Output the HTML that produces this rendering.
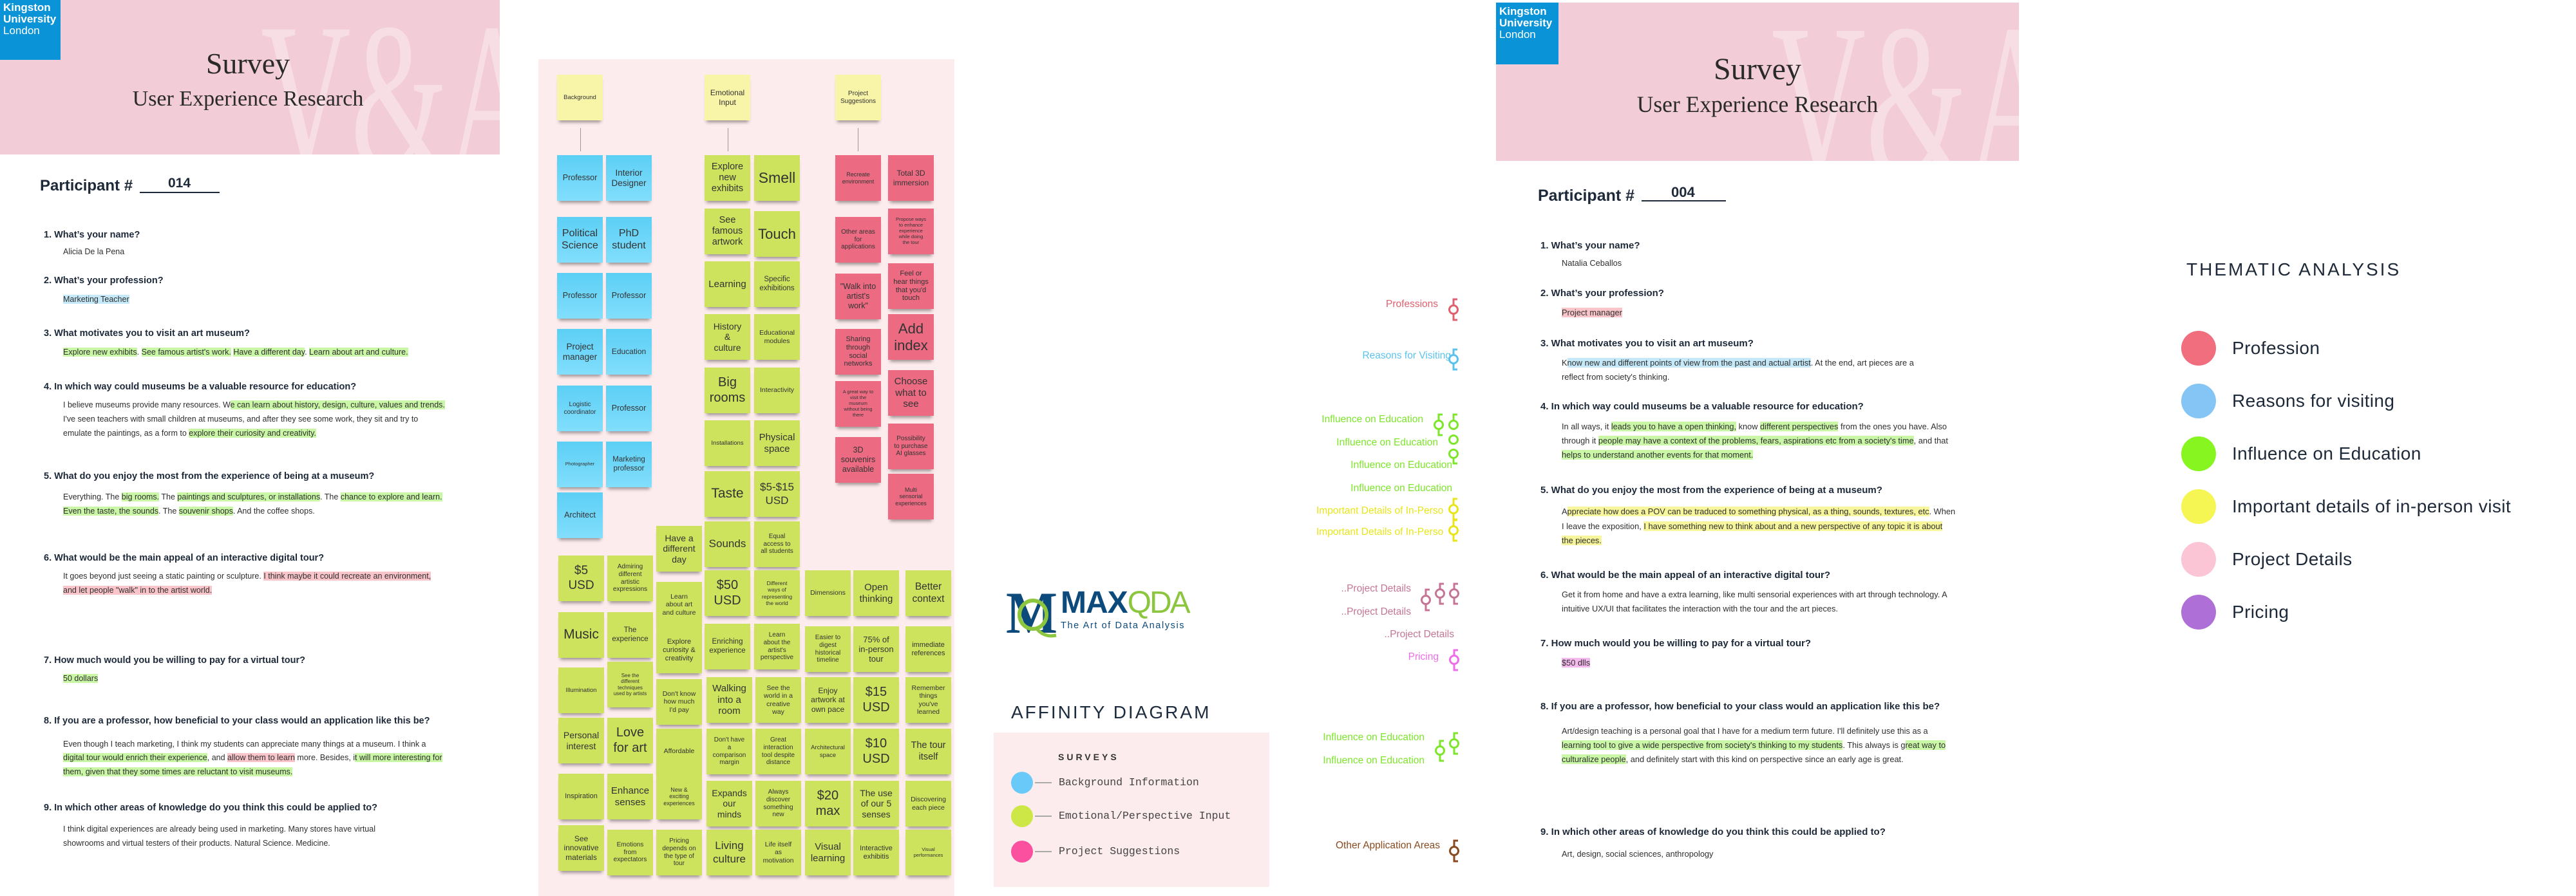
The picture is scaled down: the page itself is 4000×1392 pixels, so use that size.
<!DOCTYPE html>
<html><head><meta charset="utf-8"><style>
body{margin:0;background:#fff}
#r{position:relative;width:4000px;height:1392px;overflow:hidden;background:#fff;font-family:"Liberation Sans",Arial,sans-serif}
.a{position:absolute;white-space:nowrap}
.hdr{position:absolute;background:#f2ccd7;overflow:hidden}
.kb{position:absolute;background:#0a93d7;color:#fff;font-size:17px;line-height:18px;padding:3px 0 0 5px;box-sizing:border-box}
.kb b{font-weight:bold;display:block}
.kb span{display:block}
.ttl{position:absolute;left:0;right:0;text-align:center;font-family:"Liberation Serif",serif;color:#2a2a2a;white-space:nowrap}
.q{position:absolute;white-space:nowrap;font-weight:bold;color:#1d2939;line-height:18px}
.ans{position:absolute;white-space:nowrap;color:#2e2e2e;line-height:16px}
.L .q{font-size:14.5px}.L .ans{font-size:12.5px}
.R .q{font-size:15px}.R .ans{font-size:12.8px}
.hg{background:#c9f7a6}.hb{background:#c5e9f8}.hp{background:#f9c5ca}.hy{background:#f7f69c}.hm{background:#f6b9ee}
.s{position:absolute;width:71px;height:71px;display:flex;align-items:center;justify-content:center;text-align:center;color:#333;line-height:1.18;box-shadow:0 6px 5px -3px rgba(0,0,0,.38);box-sizing:border-box;padding:2px;white-space:nowrap}
.bl{background:linear-gradient(#5ccff5,#82defc)}
.g{background:#cde35d}
.p{background:#ec6b82}
.y{background:#f8f4a8}
.code{position:absolute;white-space:nowrap;font-size:15.5px;line-height:18px;text-align:right}
.tc{position:absolute;width:54px;height:54px;border-radius:50%;left:3387px}
.tl{position:absolute;left:3466px;font-size:28px;line-height:34px;color:#1d2939;white-space:nowrap;letter-spacing:.4px}
</style></head><body><div id="r">

<!-- ================= LEFT SURVEY ================= -->
<div class="hdr" style="left:0;top:0;width:776px;height:240px">
  <svg width="776" height="240" style="position:absolute;left:0;top:0"><text x="405" y="262" font-family="Liberation Serif, serif" font-size="330" fill="#f7dde4" textLength="430" lengthAdjust="spacingAndGlyphs">V&amp;A</text></svg>
  <div class="ttl" style="top:76px;font-size:46px;line-height:46px;left:-6px">Survey</div>
  <div class="ttl" style="top:137px;font-size:34px;line-height:34px;left:-6px">User Experience Research</div>
</div>
<div class="kb" style="left:0;top:0;width:94px;height:93px"><b>Kingston</b><b>University</b><span>London</span></div>

<div class="L">
<div class="a" style="left:62px;top:275px;font-size:24px;line-height:28px;font-weight:bold;color:#1d2939">Participant #</div>
<div class="a" style="left:261px;top:272px;font-size:21px;line-height:26px;font-weight:bold;color:#1d2939">014</div>
<div class="a" style="left:217px;top:298px;width:124px;height:2px;background:#1d2939"></div>

<div class="q" style="left:68px;top:356px">1. What’s your name?</div>
<div class="ans" style="left:98px;top:383px">Alicia De la Pena</div>
<div class="q" style="left:68px;top:427px">2. What’s your profession?</div>
<div class="ans" style="left:98px;top:457px"><span class="hb">Marketing Teacher</span></div>
<div class="q" style="left:68px;top:509px">3. What motivates you to visit an art museum?</div>
<div class="ans" style="left:98px;top:539px"><span class="hg">Explore new exhibits</span>. <span class="hg">See famous artist's work.</span> <span class="hg">Have a different day</span>. <span class="hg">Learn about art and culture.</span></div>
<div class="q" style="left:68px;top:592px">4. In which way could museums be a valuable resource for education?</div>
<div class="ans" style="left:98px;top:621px">I believe museums provide many resources. W<span class="hg">e can learn about history, design, culture, values and trends.</span></div>
<div class="ans" style="left:98px;top:643px">I've seen teachers with small children at museums, and after they see some work, they sit and try to</div>
<div class="ans" style="left:98px;top:665px">emulate the paintings, as a form to <span class="hg">explore their curiosity and creativity.</span></div>
<div class="q" style="left:68px;top:731px">5. What do you enjoy the most from the experience of being at a museum?</div>
<div class="ans" style="left:98px;top:764px">Everything. The <span class="hg">big rooms.</span> The <span class="hg">paintings and sculptures, or installations</span>. The <span class="hg">chance to explore and learn.</span></div>
<div class="ans" style="left:98px;top:786px"><span class="hg">Even the taste, the sounds</span>. The <span class="hg">souvenir shops</span>. And the coffee shops.</div>
<div class="q" style="left:68px;top:858px">6. What would be the main appeal of an interactive digital tour?</div>
<div class="ans" style="left:98px;top:887px">It goes beyond just seeing a static painting or sculpture. <span class="hp">I think maybe it could recreate an environment,</span></div>
<div class="ans" style="left:98px;top:909px"><span class="hp">and let people "walk" in to the artist world.</span></div>
<div class="q" style="left:68px;top:1017px">7. How much would you be willing to pay for a virtual tour?</div>
<div class="ans" style="left:98px;top:1046px"><span class="hg">50 dollars</span></div>
<div class="q" style="left:68px;top:1111px">8. If you are a professor, how beneficial to your class would an application like this be?</div>
<div class="ans" style="left:98px;top:1148px">Even though I teach marketing, I think my students can appreciate many things at a museum. I think a</div>
<div class="ans" style="left:98px;top:1169px"><span class="hg">digital tour would enrich their experience</span>, and <span class="hp">allow them to learn</span> more. Besides, i<span class="hg">t will more interesting for</span></div>
<div class="ans" style="left:98px;top:1191px"><span class="hg">them, given that they some times are reluctant to visit museums.</span></div>
<div class="q" style="left:68px;top:1246px">9. In which other areas of knowledge do you think this could be applied to?</div>
<div class="ans" style="left:98px;top:1280px">I think digital experiences are already being used in marketing. Many stores have virtual</div>
<div class="ans" style="left:98px;top:1302px">showrooms and virtual testers of their products. Natural Science. Medicine.</div>
</div>

<!-- ================= AFFINITY BOARD ================= -->
<div class="a" style="left:836px;top:92px;width:646px;height:1300px;background:#fdecee"></div>

<div class="s y" style="left:865px;top:116px;font-size:9.5px">Background</div>
<div class="s y" style="left:1094px;top:116px;font-size:12px">Emotional<br>Input</div>
<div class="s y" style="left:1297px;top:116px;font-size:10px">Project<br>Suggestions</div>
<div class="a" style="left:901px;top:199px;width:1px;height:36px;background:#999"></div>
<div class="a" style="left:1130px;top:199px;width:1px;height:36px;background:#999"></div>
<div class="a" style="left:1332px;top:199px;width:1px;height:36px;background:#999"></div>

<!-- blue -->
<div class="s bl" style="left:865px;top:241px;font-size:12.5px">Professor</div>
<div class="s bl" style="left:941px;top:241px;font-size:13.5px">Interior<br>Designer</div>
<div class="s bl" style="left:865px;top:337px;font-size:16px">Political<br>Science</div>
<div class="s bl" style="left:941px;top:337px;font-size:16px">PhD<br>student</div>
<div class="s bl" style="left:865px;top:424px;font-size:12.5px">Professor</div>
<div class="s bl" style="left:941px;top:424px;font-size:12.5px">Professor</div>
<div class="s bl" style="left:865px;top:511px;font-size:13.5px">Project<br>manager</div>
<div class="s bl" style="left:941px;top:511px;font-size:12px">Education</div>
<div class="s bl" style="left:865px;top:599px;font-size:10px">Logistic<br>coordinator</div>
<div class="s bl" style="left:941px;top:599px;font-size:12.5px">Professor</div>
<div class="s bl" style="left:865px;top:686px;font-size:7.5px">Photographer</div>
<div class="s bl" style="left:941px;top:686px;font-size:11.5px">Marketing<br>professor</div>
<div class="s bl" style="left:865px;top:765px;font-size:12.5px">Architect</div>

<!-- emotional column -->
<div class="s g" style="left:1094px;top:241px;font-size:14.5px">Explore<br>new<br>exhibits</div>
<div class="s g" style="left:1171px;top:241px;font-size:23px">Smell</div>
<div class="s g" style="left:1094px;top:324px;font-size:14.5px">See<br>famous<br>artwork</div>
<div class="s g" style="left:1171px;top:328px;font-size:22px">Touch</div>
<div class="s g" style="left:1094px;top:406px;font-size:15px">Learning</div>
<div class="s g" style="left:1171px;top:406px;font-size:11.5px">Specific<br>exhibitions</div>
<div class="s g" style="left:1094px;top:488px;font-size:14px">History<br>&amp;<br>culture</div>
<div class="s g" style="left:1171px;top:488px;font-size:10.5px">Educational<br>modules</div>
<div class="s g" style="left:1094px;top:571px;font-size:20px">Big<br>rooms</div>
<div class="s g" style="left:1171px;top:571px;font-size:10.5px">Interactivity</div>
<div class="s g" style="left:1094px;top:653px;font-size:9.5px">Installations</div>
<div class="s g" style="left:1171px;top:653px;font-size:15px">Physical<br>space</div>
<div class="s g" style="left:1094px;top:732px;font-size:21px">Taste</div>
<div class="s g" style="left:1171px;top:732px;font-size:17px">$5-$15<br>USD</div>

<!-- pink -->
<div class="s p" style="left:1297px;top:241px;font-size:9px">Recreate<br>environment</div>
<div class="s p" style="left:1379px;top:241px;font-size:12px">Total 3D<br>immersion</div>
<div class="s p" style="left:1297px;top:337px;font-size:10px">Other areas<br>for<br>applications</div>
<div class="s p" style="left:1379px;top:324px;font-size:7.5px">Propose ways<br>to enhance<br>experience<br>while doing<br>the tour</div>
<div class="s p" style="left:1297px;top:425px;font-size:12.5px">"Walk into<br>artist's<br>work"</div>
<div class="s p" style="left:1379px;top:409px;font-size:11px">Feel or<br>hear things<br>that you'd<br>touch</div>
<div class="s p" style="left:1297px;top:511px;font-size:11px">Sharing<br>through<br>social<br>networks</div>
<div class="s p" style="left:1379px;top:488px;font-size:22px">Add<br>index</div>
<div class="s p" style="left:1297px;top:592px;font-size:7.5px">A great way to<br>visit the<br>museum<br>without being<br>there</div>
<div class="s p" style="left:1379px;top:575px;font-size:15px">Choose<br>what to<br>see</div>
<div class="s p" style="left:1297px;top:679px;font-size:12.5px">3D<br>souvenirs<br>available</div>
<div class="s p" style="left:1379px;top:658px;font-size:10px">Possibility<br>to purchase<br>AI glasses</div>
<div class="s p" style="left:1379px;top:736px;font-size:9px">Multi<br>sensorial<br>experiences</div>

<!-- lower green grid -->
<div class="s g" style="left:867px;top:863px;font-size:19px">$5<br>USD</div>
<div class="s g" style="left:867px;top:951px;font-size:21px">Music</div>
<div class="s g" style="left:867px;top:1037px;font-size:9.5px">Illumination</div>
<div class="s g" style="left:867px;top:1115px;font-size:14px">Personal<br>interest</div>
<div class="s g" style="left:867px;top:1202px;font-size:11px">Inspiration</div>
<div class="s g" style="left:867px;top:1282px;font-size:12px">See<br>innovative<br>materials</div>

<div class="s g" style="left:943px;top:863px;font-size:10px">Admiring<br>different<br>artistic<br>expressions</div>
<div class="s g" style="left:943px;top:951px;font-size:11.5px">The<br>experience</div>
<div class="s g" style="left:943px;top:1028px;font-size:8px">See the<br>different<br>techniques<br>used by artists</div>
<div class="s g" style="left:943px;top:1115px;font-size:20px">Love<br>for art</div>
<div class="s g" style="left:943px;top:1202px;font-size:15px">Enhance<br>senses</div>
<div class="s g" style="left:943px;top:1289px;font-size:10px">Emotions<br>from<br>expectators</div>

<div class="s g" style="left:1019px;top:817px;font-size:14px">Have a<br>different<br>day</div>
<div class="s g" style="left:1019px;top:904px;font-size:10.5px">Learn<br>about art<br>and culture</div>
<div class="s g" style="left:1019px;top:975px;font-size:11px">Explore<br>curiosity &amp;<br>creativity</div>
<div class="s g" style="left:1019px;top:1055px;font-size:10.5px">Don't know<br>how much<br>I'd pay</div>
<div class="s g" style="left:1019px;top:1132px;font-size:10.5px">Affordable</div>
<div class="s g" style="left:1019px;top:1202px;font-size:9px">New &amp;<br>exciting<br>experiences</div>
<div class="s g" style="left:1019px;top:1289px;font-size:10px">Pricing<br>depends on<br>the type of<br>tour</div>

<div class="s g" style="left:1094px;top:810px;font-size:17px">Sounds</div>
<div class="s g" style="left:1094px;top:886px;font-size:20px">$50<br>USD</div>
<div class="s g" style="left:1094px;top:969px;font-size:11.5px">Enriching<br>experience</div>
<div class="s g" style="left:1097px;top:1052px;font-size:15px">Walking<br>into a<br>room</div>
<div class="s g" style="left:1097px;top:1132px;font-size:10px">Don't have<br>a<br>comparison<br>margin</div>
<div class="s g" style="left:1097px;top:1213px;font-size:14px">Expands<br>our<br>minds</div>
<div class="s g" style="left:1097px;top:1289px;font-size:17px">Living<br>culture</div>

<div class="s g" style="left:1171px;top:810px;font-size:10px">Equal<br>access to<br>all students</div>
<div class="s g" style="left:1171px;top:886px;font-size:8.5px">Different<br>ways of<br>representing<br>the world</div>
<div class="s g" style="left:1171px;top:969px;font-size:10px">Learn<br>about the<br>artist's<br>perspective</div>
<div class="s g" style="left:1173px;top:1052px;font-size:10.5px">See the<br>world in a<br>creative<br>way</div>
<div class="s g" style="left:1173px;top:1132px;font-size:10px">Great<br>interaction<br>tool despite<br>distance</div>
<div class="s g" style="left:1173px;top:1213px;font-size:10px">Always<br>discover<br>something<br>new</div>
<div class="s g" style="left:1173px;top:1289px;font-size:10.5px">Life itself<br>as<br>motivation</div>

<div class="s g" style="left:1250px;top:886px;font-size:10.5px">Dimensions</div>
<div class="s g" style="left:1250px;top:973px;font-size:10px">Easier to<br>digest<br>historical<br>timeline</div>
<div class="s g" style="left:1250px;top:1052px;font-size:12px">Enjoy<br>artwork at<br>own pace</div>
<div class="s g" style="left:1250px;top:1132px;font-size:9.5px">Architectural<br>space</div>
<div class="s g" style="left:1250px;top:1213px;font-size:20px">$20<br>max</div>
<div class="s g" style="left:1250px;top:1289px;font-size:15px">Visual<br>learning</div>

<div class="s g" style="left:1325px;top:886px;font-size:15px">Open<br>thinking</div>
<div class="s g" style="left:1325px;top:973px;font-size:13px">75% of<br>in-person<br>tour</div>
<div class="s g" style="left:1325px;top:1052px;font-size:20px">$15<br>USD</div>
<div class="s g" style="left:1325px;top:1132px;font-size:20px">$10<br>USD</div>
<div class="s g" style="left:1325px;top:1213px;font-size:14px">The use<br>of our 5<br>senses</div>
<div class="s g" style="left:1325px;top:1289px;font-size:11px">Interactive<br>exhibitis</div>

<div class="s g" style="left:1406px;top:886px;font-size:15.5px">Better<br>context</div>
<div class="s g" style="left:1406px;top:973px;font-size:11px">immediate<br>references</div>
<div class="s g" style="left:1406px;top:1052px;font-size:10.5px">Remember<br>things<br>you've<br>learned</div>
<div class="s g" style="left:1406px;top:1132px;font-size:14.5px">The tour<br>itself</div>
<div class="s g" style="left:1406px;top:1213px;font-size:10.5px">Discovering<br>each piece</div>
<div class="s g" style="left:1406px;top:1289px;font-size:7.5px">Visual<br>performances</div>

<!-- ================= MAXQDA + LEGEND ================= -->
<svg class="a" style="left:1560px;top:915px" width="90" height="80" viewBox="0 0 90 80">
  <text x="2" y="68" font-family="Liberation Serif, serif" font-weight="bold" font-size="92" fill="#0d4a7c" textLength="80" lengthAdjust="spacingAndGlyphs">M</text>
  <ellipse cx="44" cy="40" rx="21" ry="22" fill="none" stroke="#8cc63e" stroke-width="6"/>
  <path d="M50 62 Q62 76 80 72" fill="none" stroke="#8cc63e" stroke-width="5"/>
</svg>
<div class="a" style="left:1647px;top:913px;font-size:48px;line-height:48px;font-weight:bold;color:#0d4a7c;letter-spacing:-1px">MAX<span style="font-weight:normal;color:#8cc63e;letter-spacing:-3px">QDA</span></div>
<div class="a" style="left:1647px;top:964px;font-size:14.5px;line-height:17px;color:#0d4a7c;letter-spacing:1.6px">The Art of Data Analysis</div>

<div class="a" style="left:1570px;top:1090px;font-size:28px;line-height:34px;color:#1c2b3d;letter-spacing:3px">AFFINITY DIAGRAM</div>
<div class="a" style="left:1543px;top:1138px;width:428px;height:240px;background:#fdeced"></div>
<div class="a" style="left:1643px;top:1167px;font-size:14px;line-height:18px;font-weight:bold;color:#333;letter-spacing:4px">SURVEYS</div>
<div class="a" style="left:1570px;top:1199px;width:34px;height:34px;border-radius:50%;background:#69c9f9"></div>
<div class="a" style="left:1570px;top:1251px;width:34px;height:34px;border-radius:50%;background:#cde846"></div>
<div class="a" style="left:1570px;top:1306px;width:34px;height:34px;border-radius:50%;background:#fb4f9f"></div>
<div class="a" style="left:1607px;top:1215px;width:26px;height:2px;background:#aaa"></div>
<div class="a" style="left:1607px;top:1267px;width:26px;height:2px;background:#aaa"></div>
<div class="a" style="left:1607px;top:1322px;width:26px;height:2px;background:#aaa"></div>
<div class="a" style="left:1644px;top:1205px;font-family:'Liberation Mono',monospace;font-size:16.5px;line-height:22px;color:#444">Background Information</div>
<div class="a" style="left:1644px;top:1257px;font-family:'Liberation Mono',monospace;font-size:16.5px;line-height:22px;color:#444">Emotional/Perspective Input</div>
<div class="a" style="left:1644px;top:1312px;font-family:'Liberation Mono',monospace;font-size:16.5px;line-height:22px;color:#444">Project Suggestions</div>

<!-- ================= CODES COLUMN ================= -->
<div class="code" style="left:2133px;width:100px;top:464px;color:#e0606f">Professions</div>
<div class="code" style="left:2103px;width:150px;top:544px;color:#5bc2ee">Reasons for Visiting</div>
<div class="code" style="left:2010px;width:200px;top:643px;color:#7de62a">Influence on Education</div>
<div class="code" style="left:2033px;width:200px;top:679px;color:#7de62a">Influence on Education</div>
<div class="code" style="left:2055px;width:200px;top:714px;color:#7de62a">Influence on Education</div>
<div class="code" style="left:2055px;width:200px;top:750px;color:#7de62a">Influence on Education</div>
<div class="code" style="left:2044px;width:197px;top:785px;color:#e8e61a;text-align:left;overflow:hidden">Important Details of In-Person Visit</div>
<div class="code" style="left:2044px;width:197px;top:818px;color:#e8e61a;text-align:left;overflow:hidden">Important Details of In-Person Visit</div>
<div class="code" style="left:2041px;width:150px;top:906px;color:#c47595">..Project Details</div>
<div class="code" style="left:2041px;width:150px;top:942px;color:#c47595">..Project Details</div>
<div class="code" style="left:2108px;width:150px;top:977px;color:#c47595">..Project Details</div>
<div class="code" style="left:2134px;width:100px;top:1012px;color:#ef6de8">Pricing</div>
<div class="code" style="left:2012px;width:200px;top:1137px;color:#7de62a">Influence on Education</div>
<div class="code" style="left:2012px;width:200px;top:1173px;color:#7de62a">Influence on Education</div>
<div class="code" style="left:2036px;width:200px;top:1305px;color:#8a4a20">Other Application Areas</div>

<svg class="a" style="left:0;top:0" width="4000" height="1392" viewBox="0 0 4000 1392" fill="none" stroke-width="3">
  <g stroke="#e0606f"><path d="M2263 465H2257V474.5M2257 487.5V497H2263"/><circle cx="2257" cy="481" r="6.5"/></g>
  <g stroke="#5bc2ee"><path d="M2263 543H2257V551.5M2257 564.5V574H2263"/><circle cx="2257" cy="558" r="6.5"/></g>
  <g stroke="#7de62a">
    <path d="M2240 644H2234V653.5M2234 666.5V676H2240"/><circle cx="2234" cy="660" r="6.5"/>
    <path d="M2263 644H2257V653.5M2257 711.5V720H2263"/><circle cx="2257" cy="660" r="6.5"/><circle cx="2257" cy="683" r="6.5"/><circle cx="2257" cy="705" r="6.5"/>
    <path d="M2242 1151H2236V1159.5M2236 1172.5V1182H2242"/><circle cx="2236" cy="1166" r="6.5"/>
    <path d="M2264 1139H2258V1148.5M2258 1161.5V1171H2264"/><circle cx="2258" cy="1155" r="6.5"/>
  </g>
  <g stroke="#e8e61a">
    <path d="M2263 775H2257V784.5M2257 797.5V807H2263"/><circle cx="2257" cy="791" r="6.5"/>
    <path d="M2263 808H2257V817.5M2257 830.5V840H2263"/><circle cx="2257" cy="824" r="6.5"/>
  </g>
  <g stroke="#c47595">
    <path d="M2220 916H2214V925.5M2214 938.5V948H2220"/><circle cx="2214" cy="932" r="6.5"/>
    <path d="M2242 907H2236V915.5M2236 928.5V938H2242"/><circle cx="2236" cy="922" r="6.5"/>
    <path d="M2264 907H2258V915.5M2258 928.5V938H2264"/><circle cx="2258" cy="922" r="6.5"/>
  </g>
  <g stroke="#ef6de8"><path d="M2264 1010H2258V1018.5M2258 1031.5V1041H2264"/><circle cx="2258" cy="1025" r="6.5"/></g>
  <g stroke="#8a4a20"><path d="M2264 1306H2258V1315.5M2258 1328.5V1338H2264"/><circle cx="2258" cy="1322" r="6.5"/></g>
</svg>

<!-- ================= RIGHT SURVEY ================= -->
<div class="hdr" style="left:2323px;top:4px;width:812px;height:246px">
  <svg width="812" height="246" style="position:absolute;left:0;top:0"><text x="428" y="270" font-family="Liberation Serif, serif" font-size="345" fill="#f7dde4" textLength="450" lengthAdjust="spacingAndGlyphs">V&amp;A</text></svg>
  <div class="ttl" style="top:80px;font-size:48px;line-height:48px">Survey</div>
  <div class="ttl" style="top:140px;font-size:35.5px;line-height:36px">User Experience Research</div>
</div>
<div class="kb" style="left:2323px;top:4px;width:97px;height:96px;padding-top:5px"><b>Kingston</b><b>University</b><span>London</span></div>

<div class="R">
<div class="a" style="left:2388px;top:290px;font-size:25px;line-height:28px;font-weight:bold;color:#1d2939">Participant #</div>
<div class="a" style="left:2595px;top:286px;font-size:22px;line-height:26px;font-weight:bold;color:#1d2939">004</div>
<div class="a" style="left:2549px;top:311px;width:131px;height:2px;background:#1d2939"></div>

<div class="q" style="left:2392px;top:373px">1. What’s your name?</div>
<div class="ans" style="left:2425px;top:401px">Natalia Ceballos</div>
<div class="q" style="left:2392px;top:447px">2. What’s your profession?</div>
<div class="ans" style="left:2425px;top:478px"><span class="hp">Project manager</span></div>
<div class="q" style="left:2392px;top:525px">3. What motivates you to visit an art museum?</div>
<div class="ans" style="left:2425px;top:556px">K<span class="hb">now new and different points of view from the past and actual artist</span>. At the end, art pieces are a</div>
<div class="ans" style="left:2425px;top:578px">reflect from society's thinking.</div>
<div class="q" style="left:2392px;top:623px">4. In which way could museums be a valuable resource for education?</div>
<div class="ans" style="left:2425px;top:655px">In all ways, it <span class="hg">leads you to have a open thinking,</span> know <span class="hg">different perspectives</span> from the ones you have. Also</div>
<div class="ans" style="left:2425px;top:677px">through it <span class="hg">people may have a context of the problems, fears, aspirations etc from a society's time</span>, and that</div>
<div class="ans" style="left:2425px;top:699px"><span class="hg">helps to understand another events for that moment.</span></div>
<div class="q" style="left:2392px;top:753px">5. What do you enjoy the most from the experience of being at a museum?</div>
<div class="ans" style="left:2425px;top:787px">A<span class="hy">ppreciate how does a POV can be traduced to something physical, as a thing, sounds, textures, etc</span>. When</div>
<div class="ans" style="left:2425px;top:810px">I leave the exposition, <span class="hy">I have something new to think about and a new perspective of any topic it is about</span></div>
<div class="ans" style="left:2425px;top:832px"><span class="hy">the pieces.</span></div>
<div class="q" style="left:2392px;top:885px">6. What would be the main appeal of an interactive digital tour?</div>
<div class="ans" style="left:2425px;top:916px">Get it from home and have a extra learning, like multi sensorial experiences with art through technology. A</div>
<div class="ans" style="left:2425px;top:938px">intuitive UX/UI that facilitates the interaction with the tour and the art pieces.</div>
<div class="q" style="left:2392px;top:991px">7. How much would you be willing to pay for a virtual tour?</div>
<div class="ans" style="left:2425px;top:1022px"><span class="hm">$50 dlls</span></div>
<div class="q" style="left:2392px;top:1089px">8. If you are a professor, how beneficial to your class would an application like this be?</div>
<div class="ans" style="left:2425px;top:1128px">Art/design teaching is a personal goal that I have for a medium term future. I'll definitely use this as a</div>
<div class="ans" style="left:2425px;top:1150px"><span class="hg">learning tool to give a wide perspective from society's thinking to my students</span>. This always is g<span class="hg">reat way to</span></div>
<div class="ans" style="left:2425px;top:1172px"><span class="hg">culturalize people</span>, and definitely start with this kind on perspective since an early age is great.</div>
<div class="q" style="left:2392px;top:1284px">9. In which other areas of knowledge do you think this could be applied to?</div>
<div class="ans" style="left:2425px;top:1319px">Art, design, social sciences, anthropology</div>
</div>

<!-- ================= THEMATIC ANALYSIS ================= -->
<div class="a" style="left:3395px;top:402px;font-size:28px;line-height:34px;color:#1d2939;letter-spacing:3px">THEMATIC ANALYSIS</div>
<div class="tc" style="top:514px;background:#f06e7e"></div>
<div class="tc" style="top:596px;background:#85c5f5"></div>
<div class="tc" style="top:678px;background:#86f520"></div>
<div class="tc" style="top:760px;background:#f5f553"></div>
<div class="tc" style="top:842px;background:#fbc5d5"></div>
<div class="tc" style="top:924px;background:#ae6fd6"></div>
<div class="tl" style="top:524px">Profession</div>
<div class="tl" style="top:606px">Reasons for visiting</div>
<div class="tl" style="top:688px">Influence on Education</div>
<div class="tl" style="top:770px">Important details of in-person visit</div>
<div class="tl" style="top:852px">Project Details</div>
<div class="tl" style="top:934px">Pricing</div>

</div></body></html>
